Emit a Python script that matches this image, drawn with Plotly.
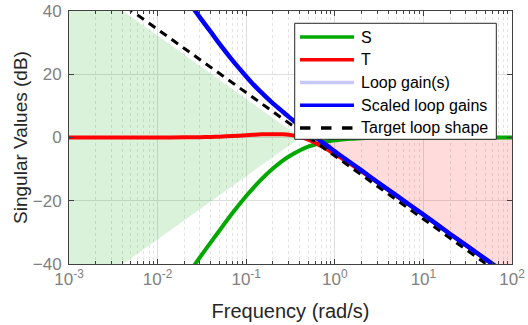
import plotly.graph_objects as go

# ---- data ----
freq = [0.001, 0.002, 0.005, 0.01, 0.02, 0.03, 0.04, 0.05, 0.07, 0.1,
        0.12, 0.15, 0.2, 0.25, 0.3, 0.35, 0.4, 0.5, 0.6, 0.7,
        0.85, 1, 1.2, 1.5, 2, 3, 5, 10, 20, 50, 100]
S_db = [-96.9, -84.8, -68.9, -56.9, -44.9, -37.9, -33.1, -29.4, -23.9, -18.5,
        -16.0, -13.1, -9.8, -7.6, -6.1, -5.0, -4.1, -2.9, -2.2, -1.7,
        -1.2, -0.9, -0.6, -0.4, -0.2, -0.1, 0.0, 0.0, 0.0, 0.0, 0.0]
T_db = [0.0, 0.0, 0.0, 0.01, 0.05, 0.1, 0.18, 0.27, 0.46, 0.72,
        0.86, 0.99, 1.05, 1.0, 0.9, 0.6, 0.2, -0.7, -1.7, -2.7,
        -4.0, -5.2, -6.6, -8.3, -10.7, -14.1, -18.5, -24.4, -30.5, -38.4, -44.4]
loop_gain_db = [96.9, 84.8, 68.9, 56.9, 44.9, 38.0, 33.3, 29.6, 24.4, 19.3,
                16.8, 14.1, 10.8, 8.5, 6.6, 5.1, 3.9, 1.8, 0.2, -1.2,
                -2.9, -4.4, -6.0, -7.9, -10.4, -14.0, -18.4, -24.4, -30.5, -38.4, -44.4]
scaled_loop_db = loop_gain_db  # scaled loop gains coincide with the loop gain
target_freq = [0.001, 100]
target_db = [54.2, -45.8]

green_region_freq = [0.001, 0.00408, 0.408, 0.00408, 0.001]
green_region_db = [40, 40, 0, -40, -40]
red_region_freq = [0.647, 100, 100, 64.7]
red_region_db = [0, 0, -40, -40]

x_tickvals = [0.001, 0.01, 0.1, 1, 10, 100]
x_ticktext = ["10<sup>-3</sup>", "10<sup>-2</sup>", "10<sup>-1</sup>",
              "10<sup>0</sup>", "10<sup>1</sup>", "10<sup>2</sup>"]
y_tickvals = [-40, -20, 0, 20, 40]

legend_labels = ["S", "T", "Loop gain(s)", "Scaled loop gains", "Target loop shape"]
legend_colors = ["#00a800", "#ff0000", "#c8c8ff", "#0000ff", "#000000"]
legend_dash = ["solid", "solid", "solid", "solid", "dash"]

FONT = "Liberation Sans, Arial, Helvetica, sans-serif"

fig = go.Figure()
fig.add_trace(go.Scatter(x=green_region_freq, y=green_region_db, fill="toself",
                         fillcolor="rgba(0,170,0,0.15)", line=dict(width=0),
                         mode="lines", showlegend=False, hoverinfo="skip"))
fig.add_trace(go.Scatter(x=red_region_freq, y=red_region_db, fill="toself",
                         fillcolor="rgba(255,0,0,0.14)", line=dict(width=0),
                         mode="lines", showlegend=False, hoverinfo="skip"))

fig.add_trace(go.Scatter(x=freq, y=loop_gain_db, mode="lines",
                         line=dict(color=legend_colors[2], width=3.5, shape="spline", smoothing=0.6),
                         showlegend=False))
fig.add_trace(go.Scatter(x=freq, y=S_db, mode="lines",
                         line=dict(color=legend_colors[0], width=4, shape="spline", smoothing=0.6),
                         showlegend=False))
fig.add_trace(go.Scatter(x=freq, y=T_db, mode="lines",
                         line=dict(color=legend_colors[1], width=4, shape="spline", smoothing=0.6),
                         showlegend=False))
fig.add_trace(go.Scatter(x=target_freq, y=target_db, mode="lines",
                         line=dict(color="#000000", width=3, dash="8px,6px"), showlegend=False))
fig.add_trace(go.Scatter(x=freq, y=scaled_loop_db, mode="lines",
                         line=dict(color=legend_colors[3], width=4.5, shape="spline", smoothing=0.6),
                         showlegend=False))

# custom MATLAB-style legend
lx0, lx1, ly0, ly1 = 0.5095, 0.9646, 0.4929, 0.9514
fig.add_shape(type="rect", xref="paper", yref="paper", x0=lx0, x1=lx1, y0=ly0, y1=ly1,
              fillcolor="white", line=dict(color="#262626", width=1), layer="above")
for i, lab in enumerate(legend_labels):
    yy = 0.8972 - i * 0.0899
    fig.add_shape(type="line", xref="paper", yref="paper", x0=0.5214, x1=0.6433, y0=yy, y1=yy,
                  line=dict(color=legend_colors[i], width=3.5,
                            dash="dash" if legend_dash[i] == "dash" else "solid"),
                  layer="above")
    fig.add_annotation(xref="paper", yref="paper", x=0.6546, y=yy, text=lab, showarrow=False,
                       xanchor="left", yanchor="middle",
                       font=dict(family=FONT, size=16, color="#000000"))

axis_common = dict(showline=True, linecolor="#404040", linewidth=1, mirror="ticks",
                   ticks="inside", ticklen=5, tickcolor="#404040", automargin=False,
                   showgrid=True, gridcolor="#dedede", gridwidth=1, zeroline=False,
                   tickfont=dict(family=FONT, size=17, color="#808080"))

fig.update_xaxes(type="log", range=[-3, 2], tickvals=x_tickvals, ticktext=x_ticktext,
                 title=dict(text="Frequency (rad/s)", standoff=15,
                            font=dict(family=FONT, size=20, color="#262626")),
                 minor=dict(ticks="inside", ticklen=3, tickcolor="#404040", showgrid=True,
                            gridcolor="#e4e4e4", griddash="dot", dtick="D1"),
                 **axis_common)
fig.update_yaxes(range=[-40, 40], tickvals=y_tickvals,
                 title=dict(text="Singular Values (dB)", standoff=0,
                            font=dict(family=FONT, size=19, color="#262626")),
                 ticklabelstandoff=3,
                 **axis_common)

fig.update_layout(width=528, height=325, margin=dict(l=69, r=16, t=11, b=61),
                  paper_bgcolor="white", plot_bgcolor="white", showlegend=False)

fig.write_html("out.html", config={"displayModeBar": False},
               post_script="document.body.style.margin='0px';")
